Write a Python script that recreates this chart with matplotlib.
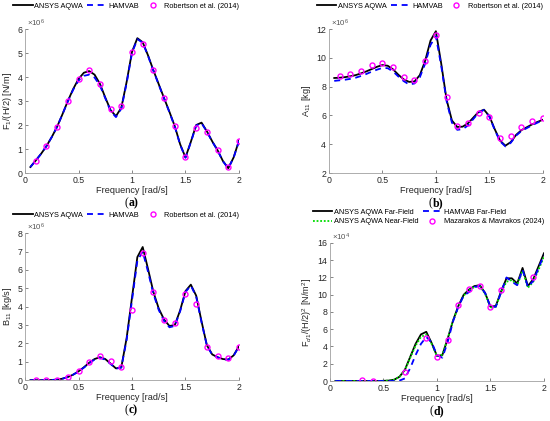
"""Hydrodynamic coefficients comparison: four-panel figure."""

import matplotlib

matplotlib.use("Agg")
import matplotlib.pyplot as plt
from matplotlib.ticker import FormatStrFormatter

plt.rcParams["font.family"] = ["Liberation Sans", "DejaVu Sans"]
plt.rcParams["mathtext.fontset"] = "custom"
plt.rcParams["mathtext.rm"] = "Liberation Sans"
plt.rcParams["mathtext.it"] = "Liberation Sans:italic"

# common frequency grids [rad/s]
freq = [0.05, 0.10, 0.15, 0.20, 0.25, 0.30, 0.35, 0.40, 0.45, 0.50,
        0.55, 0.60, 0.65, 0.70, 0.75, 0.80, 0.85, 0.90, 0.95, 1.00,
        1.05, 1.10, 1.15, 1.20, 1.25, 1.30, 1.35, 1.40, 1.45, 1.50,
        1.55, 1.60, 1.65, 1.70, 1.75, 1.80, 1.85, 1.90, 1.95, 2.00]
freq_ref = [0.1, 0.2, 0.3, 0.4, 0.5, 0.6, 0.7, 0.8, 0.9, 1.0,
            1.1, 1.2, 1.3, 1.4, 1.5, 1.6, 1.7, 1.8, 1.9, 2.0]

# (a) surge exciting force, x1e6 N/m
f1_aqwa = [0.25, 0.52, 0.80, 1.12, 1.50, 1.93, 2.45, 3.00, 3.50, 3.92,
           4.18, 4.25, 4.10, 3.72, 3.15, 2.62, 2.37, 2.72, 3.80, 5.05,
           5.62, 5.45, 4.90, 4.28, 3.70, 3.12, 2.55, 1.95, 1.20, 0.65,
           1.30, 2.00, 2.10, 1.74, 1.32, 0.95, 0.50, 0.20, 0.65, 1.35]
f1_hamvab = [0.25, 0.52, 0.80, 1.12, 1.50, 1.93, 2.45, 2.98, 3.47, 3.85,
             4.05, 4.10, 3.98, 3.65, 3.12, 2.58, 2.33, 2.68, 3.75, 5.00,
             5.58, 5.43, 4.88, 4.26, 3.68, 3.10, 2.53, 1.93, 1.18, 0.64,
             1.28, 1.98, 2.08, 1.72, 1.31, 0.94, 0.49, 0.20, 0.64, 1.33]
f1_rob = [0.50, 1.12, 1.92, 3.00, 3.93, 4.28, 3.72, 2.65, 2.78, 5.05,
          5.38, 4.28, 3.12, 1.98, 0.65, 1.88, 1.70, 0.98, 0.27, 1.33]

# (b) surge added mass, x1e6 kg
a11_aqwa = [8.60, 8.62, 8.66, 8.72, 8.80, 8.92, 9.06, 9.22, 9.38, 9.50,
            9.45, 9.20, 8.82, 8.50, 8.33, 8.36, 8.80, 9.80, 11.20, 11.85,
            9.60, 7.10, 5.65, 5.20, 5.22, 5.45, 5.85, 6.25, 6.40, 5.95,
            5.05, 4.25, 3.90, 4.15, 4.65, 4.98, 5.18, 5.38, 5.55, 5.70]
a11_hamvab = [8.40, 8.44, 8.48, 8.54, 8.62, 8.74, 8.88, 9.04, 9.18, 9.30,
              9.28, 9.05, 8.70, 8.38, 8.15, 8.22, 8.65, 9.60, 10.90, 11.50,
              9.45, 7.00, 5.50, 5.00, 5.05, 5.30, 5.75, 6.20, 6.38, 5.92,
              5.00, 4.20, 3.85, 4.10, 4.60, 4.92, 5.12, 5.32, 5.50, 5.65]
a11_rob = [8.75, 8.90, 9.12, 9.48, 9.65, 9.35, 8.65, 8.45, 9.75, 11.60,
           7.25, 5.30, 5.50, 6.20, 5.90, 4.45, 4.55, 5.22, 5.60, 5.80]

# (c) surge radiation damping, x1e6 kg/s
b11_aqwa = [0.00, 0.00, 0.00, 0.00, 0.01, 0.03, 0.08, 0.17, 0.30, 0.48,
            0.70, 0.95, 1.15, 1.25, 1.15, 0.90, 0.64, 0.70, 2.30, 4.50,
            6.70, 7.25, 6.05, 4.80, 3.90, 3.30, 2.95, 3.00, 3.80, 4.85,
            5.20, 4.60, 3.20, 1.90, 1.40, 1.25, 1.15, 1.12, 1.35, 1.85]
b11_hamvab = [0.00, 0.00, 0.00, 0.00, 0.01, 0.03, 0.08, 0.17, 0.30, 0.47,
              0.68, 0.92, 1.12, 1.22, 1.12, 0.88, 0.63, 0.68, 2.20, 4.35,
              6.50, 7.00, 5.90, 4.70, 3.82, 3.22, 2.88, 2.95, 3.75, 4.80,
              5.15, 4.55, 3.15, 1.88, 1.38, 1.24, 1.14, 1.11, 1.33, 1.83]
b11_rob = [0.00, 0.00, 0.02, 0.15, 0.50, 1.00, 1.30, 1.02, 0.72, 3.82,
           6.90, 4.78, 3.25, 3.10, 4.68, 4.15, 1.82, 1.32, 1.20, 1.82]

# (d) mean drift force, x1e4 N/m^2
fd_far = [0.00, 0.00, 0.00, 0.00, 0.00, 0.00, 0.00, 0.00, 0.00, 0.02,
          0.05, 0.15, 0.50, 1.30, 2.80, 4.30, 5.40, 5.70, 4.40, 2.90,
          3.00, 4.90, 7.00, 8.70, 10.00, 10.60, 11.00, 11.10, 10.20, 8.60,
          8.70, 10.40, 11.90, 11.90, 11.30, 13.10, 11.00, 11.80, 13.30, 14.80]
fd_near = [0.00, 0.00, 0.00, 0.00, 0.00, 0.00, 0.00, 0.00, 0.00, 0.02,
           0.05, 0.15, 0.48, 1.25, 2.70, 4.10, 5.10, 5.40, 4.30, 2.90,
           3.05, 4.90, 7.00, 8.60, 9.90, 10.50, 10.90, 11.00, 10.10, 8.50,
           8.60, 10.30, 11.50, 11.70, 11.10, 12.80, 10.80, 11.50, 12.90, 14.40]
fd_hamvab = [0.00, 0.00, 0.00, 0.00, 0.00, 0.00, 0.00, 0.00, 0.00, 0.00,
             0.00, 0.00, 0.05, 0.30, 1.50, 3.00, 4.30, 5.10, 4.50, 3.00,
             2.70, 4.50, 6.90, 8.60, 9.90, 10.30, 10.90, 11.00, 10.20, 8.60,
             8.60, 10.30, 12.00, 11.50, 11.10, 12.90, 10.90, 11.60, 13.10, 14.60]
fd_freq_ref = [0.3, 0.4, 0.7, 0.9, 1.0, 1.1, 1.2, 1.3, 1.4, 1.5, 1.6, 1.9]
fd_maz = [0.10, 0.00, 1.00, 5.00, 2.80, 4.75, 8.80, 10.70, 11.05, 8.60, 10.60, 12.10]

FS = 6.3
LEG_FS = 5.3
GREY = "#555555"
DARK = "#262626"
DASH = (0, (3.3, 2.6))


def style_axes(ax, ylim, yticks, ylabel, exponent, letter):
    ax.set_xlim(0, 2)
    ax.set_ylim(*ylim)
    ax.set_xticks([0, 0.5, 1, 1.5, 2])
    ax.set_yticks(yticks)
    ax.xaxis.set_major_formatter(FormatStrFormatter("%g"))
    ax.yaxis.set_major_formatter(FormatStrFormatter("%g"))
    ax.tick_params(direction="in", length=2.5, width=0.5, labelsize=FS,
                   colors=GREY, labelcolor=DARK, pad=2)
    for side in ("top", "right"):
        ax.spines[side].set_visible(False)
    for side in ("left", "bottom"):
        ax.spines[side].set_color("#a0a0a0")
        ax.spines[side].set_linewidth(0.6)
    ax.set_xlabel("Frequency [rad/s]", fontsize=FS + 0.3, color=DARK, labelpad=1)
    ax.set_ylabel(ylabel, fontsize=FS + 0.3, color=DARK, labelpad=2)
    ax.text(0.01, 1.0, r"$\times$10$^{%d}$" % exponent, transform=ax.transAxes,
            fontsize=FS - 0.6, color=GREY, ha="left", va="bottom")
    # panel tag "(x)" below the x label, letter in bold serif
    ax.annotate("(", xy=(0.5, 0), xycoords="axes fraction", xytext=(-2.5, -17.5),
                textcoords="offset points", fontsize=8.5, family="Liberation Serif",
                ha="right", va="top")
    ax.annotate(letter + ")", xy=(0.5, 0), xycoords="axes fraction",
                xytext=(-2.5, -17.5), textcoords="offset points", fontsize=8.5,
                family="Liberation Serif", fontweight="bold", ha="left", va="top")


def add_legend(ax, ncol, y_px):
    height_px = ax.get_position().height * 421
    ax.legend(loc="center right", bbox_to_anchor=(1.0, 1 + y_px / height_px),
              ncol=ncol, frameon=False, fontsize=LEG_FS, handlelength=2.6,
              columnspacing=0.55, handletextpad=0.25, labelspacing=0.3,
              borderaxespad=0, borderpad=0)


def three_series(ax, aqwa, hamvab, ref, ref_label):
    ax.plot(freq, aqwa, color="black", lw=1.3, label="ANSYS AQWA")
    ax.plot(freq, hamvab, color="#0000ff", lw=1.3, ls=DASH, label="HAMVAB")
    ax.plot(freq_ref, ref, ls="none", marker="o", ms=3.6, mfc="none",
            mec="#ff00ff", mew=1.0, label=ref_label)


fig = plt.figure(figsize=(5.5, 4.21), dpi=100)
ax_a = fig.add_axes([0.0455, 0.589, 0.389, 0.342])
ax_b = fig.add_axes([0.598, 0.589, 0.389, 0.342])
ax_c = fig.add_axes([0.0455, 0.097, 0.389, 0.349])
ax_d = fig.add_axes([0.600, 0.095, 0.389, 0.328])

three_series(ax_a, f1_aqwa, f1_hamvab, f1_rob, "Robertson et al. (2014)")
style_axes(ax_a, (0, 6), range(0, 7), r"F$_1$/(H/2) [N/m]", 6, "a")
add_legend(ax_a, 3, 23)

three_series(ax_b, a11_aqwa, a11_hamvab, a11_rob, "Robertson et al. (2014)")
style_axes(ax_b, (2, 12), range(2, 13, 2), r"A$_{11}$ [kg]", 6, "b")
add_legend(ax_b, 3, 23)

three_series(ax_c, b11_aqwa, b11_hamvab, b11_rob, "Robertson et al. (2014)")
style_axes(ax_c, (0, 8), range(0, 9), r"B$_{11}$ [kg/s]", 6, "c")
add_legend(ax_c, 3, 18)

ax_d.plot(freq, fd_far, color="black", lw=1.3, label="ANSYS AQWA Far-Field")
ax_d.plot(freq, fd_near, color="#00dd00", lw=1.3, ls=(0, (1, 1)),
          label="ANSYS AQWA Near-Field")
ax_d.plot(freq, fd_hamvab, color="#0000ff", lw=1.3, ls=DASH,
          label="HAMVAB Far-Field")
ax_d.plot(fd_freq_ref, fd_maz, ls="none", marker="o", ms=3.6, mfc="none",
          mec="#ff00ff", mew=1.0, label="Mazarakos & Mavrakos (2024)")
style_axes(ax_d, (0, 16), range(0, 17, 2), r"F$_{d1}$/(H/2)$^2$ [N/m$^2$]", 4, "d")
add_legend(ax_d, 2, 26)

fig.savefig("out.png", dpi=100)
